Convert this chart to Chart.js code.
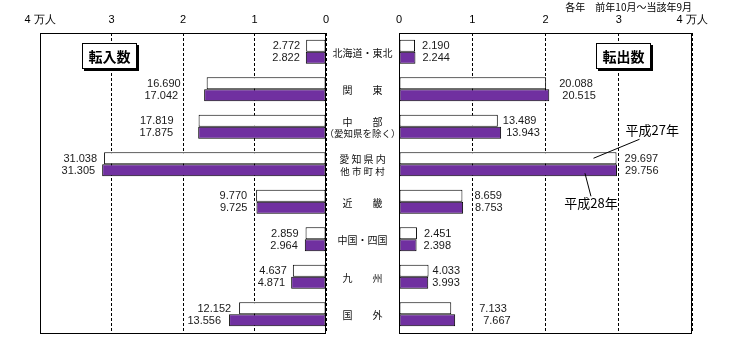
<!DOCTYPE html>
<html><head><meta charset="utf-8">
<script src="https://cdn.jsdelivr.net/npm/chart.js@4/dist/chart.umd.min.js"></script>
<style>
body{margin:0;background:#fff;width:750px;height:357px;position:relative;overflow:hidden}
#wl{position:absolute;left:0;top:0;width:340px;height:357px}
#wr{position:absolute;left:326px;top:0;width:424px;height:357px}
</style></head><body>
<div id="wl"><canvas id="cl"></canvas></div>
<div id="wr"><canvas id="cr"></canvas></div>
<script>
// ---- data (thousands of people) ----
const categories = ['北海道・東北', '関　　東', ['中　　部', '（愛知県を除く）'], ['愛 知 県 内', '他 市 町 村'], '近　　畿', '中国・四国', '九　　州', '国　　外'];
const seriesNames = ['平成27年', '平成28年'];
const inflow27  = [2.772, 16.690, 17.819, 31.038, 9.770, 2.859, 4.637, 12.152];
const inflow28  = [2.822, 17.042, 17.875, 31.305, 9.725, 2.964, 4.871, 13.556];
const outflow27 = [2.190, 20.088, 13.489, 29.697, 8.659, 2.451, 4.033, 7.133];
const outflow28 = [2.244, 20.515, 13.943, 29.756, 8.753, 2.398, 3.993, 7.667];
const tickValues = [0, 10, 20, 30, 40];
const tickLabels = ['0', '1', '2', '3', '4 万人'];
const panelTitles = ['転入数', '転出数'];
const periodNote = '各年　前年10月～当該年9月';
// label gaps (style only)
const gapIn  = [6, 26, 25, 7, 9, 7, 6, 8];
const gapOut = [7, 13, 5, 8, 12, 7, 4, 28];

const PURPLE = '#7030a0';
const JP = '"Noto Sans CJK JP", "Noto Sans", sans-serif';
const NUM = '"Liberation Sans", Arial, sans-serif';

function datasets(a, b) {
  return [
    {label: seriesNames[0], data: a, backgroundColor: '#ffffff', borderColor: '#000', borderWidth: 1, borderSkipped: false, categoryPercentage: 0.64, barPercentage: 1},
    {label: seriesNames[1], data: b, backgroundColor: PURPLE, borderColor: '#000', borderWidth: 1, borderSkipped: false, categoryPercentage: 0.64, barPercentage: 1}
  ];
}

function xScale(reverse) {
  return {
    type: 'linear', position: 'top', min: 0, max: 40, reverse: reverse,
    afterFit: s => { s.height = 20; s.paddingLeft = 0; s.paddingRight = 0; },
    ticks: {
      stepSize: 10, color: '#000', padding: 6, maxRotation: 0,
      font: {family: NUM, size: 11},
      callback: v => { const i = tickValues.indexOf(v); return i >= 0 ? tickLabels[i] : ''; }
    },
    grid: {color: '#000', lineWidth: 1, drawTicks: false},
    border: {display: false, dash: [3, 2]}
  };
}

const frame = {
  id: 'frame',
  afterDraw(chart) {
    const {ctx, chartArea: a} = chart;
    ctx.save();
    ctx.strokeStyle = '#000'; ctx.lineWidth = 1; ctx.setLineDash([]);
    ctx.strokeRect(Math.round(a.left) + 0.5, Math.round(a.top) + 0.5, Math.round(a.right - a.left) - 1, Math.round(a.bottom - a.top));
    ctx.restore();
  }
};

function valueLabels(side, gaps) {
  return {
    id: 'vl' + side,
    afterDatasetsDraw(chart) {
      const ctx = chart.ctx;
      ctx.save();
      ctx.font = '11px ' + NUM;
      ctx.fillStyle = '#1a1a1a';
      ctx.textBaseline = 'middle';
      ctx.textAlign = side === 'left' ? 'right' : 'left';
      chart.data.datasets.forEach((ds, i) => {
        chart.getDatasetMeta(i).data.forEach((bar, j) => {
          const x = side === 'left' ? bar.x - gaps[j] : bar.x + gaps[j];
          ctx.fillText(ds.data[j].toFixed(3), x, bar.y + 0.5);
        });
      });
      ctx.restore();
    }
  };
}

function titleBox(ctx, text, x1, y1, x2, y2) {
  ctx.save();
  ctx.fillStyle = '#000';
  ctx.fillRect(x1 + 2, y1 + 2, x2 - x1, y2 - y1);
  ctx.fillStyle = '#fff';
  ctx.fillRect(x1, y1, x2 - x1, y2 - y1);
  ctx.strokeStyle = '#000'; ctx.lineWidth = 1;
  ctx.strokeRect(x1 + 0.5, y1 + 0.5, x2 - x1 - 1, y2 - y1 - 1);
  ctx.fillStyle = '#000';
  ctx.font = 'bold 14px ' + JP;
  ctx.textAlign = 'center'; ctx.textBaseline = 'middle';
  ctx.fillText(text, (x1 + x2) / 2, (y1 + y2) / 2 + 1);
  ctx.restore();
}

const leftDeco = {
  id: 'leftDeco',
  afterDraw(chart) {
    const a = chart.chartArea;
    titleBox(chart.ctx, panelTitles[0], a.left + 42, a.top + 10, a.left + 97, a.top + 36);
  }
};

const rightDeco = {
  id: 'rightDeco',
  afterDraw(chart) {
    const {ctx, chartArea: a} = chart;
    titleBox(ctx, panelTitles[1], a.right - 96, a.top + 10, a.right - 41, a.top + 36);
    // category labels in the middle column
    const cx = a.left - 36.5;
    ctx.save();
    ctx.fillStyle = '#111';
    ctx.textAlign = 'center'; ctx.textBaseline = 'middle';
    const ys = chart.scales.y;
    categories.forEach((c, j) => {
      const y = ys.getPixelForValue(j) + 1;
      if (Array.isArray(c)) {
        ctx.font = '10px ' + JP;
        ctx.fillText(c[0], cx, y - 6);
        ctx.font = (c[1].length > 6 ? '9.5px ' : '10px ') + JP;
        ctx.fillText(c[1], cx, y + 6);
      } else {
        ctx.font = '10px ' + JP;
        ctx.fillText(c, cx, y);
      }
    });
    // period note
    ctx.font = '10px ' + JP;
    ctx.textAlign = 'right'; ctx.fillStyle = '#000';
    ctx.fillText(periodNote, a.right, 7);
    // series annotations
    const b27 = chart.getDatasetMeta(0).data[3];
    const b28 = chart.getDatasetMeta(1).data[3];
    ctx.strokeStyle = '#000'; ctx.lineWidth = 1;
    ctx.beginPath();
    ctx.moveTo(b27.x + 23, b27.y - 19); ctx.lineTo(b27.x - 23, b27.y);
    ctx.moveTo(b28.x - 32, b28.y + 3); ctx.lineTo(b28.x - 26, b28.y + 26);
    ctx.stroke();
    ctx.font = '13px ' + JP;
    ctx.textAlign = 'left';
    ctx.fillText(seriesNames[0], b27.x + 9, b27.y - 28);
    ctx.textAlign = 'center';
    ctx.fillText(seriesNames[1], b28.x - 26, b28.y + 33);
    ctx.restore();
  }
};

function makeChart(id, a, b, reverse, padding, plugins) {
  return new Chart(document.getElementById(id), {
    type: 'bar',
    data: {labels: categories.map(c => Array.isArray(c) ? c.join('') : c), datasets: datasets(a, b)},
    options: {
      indexAxis: 'y', responsive: true, maintainAspectRatio: false, animation: false,
      layout: {padding: padding},
      plugins: {legend: {display: false}, tooltip: {enabled: false}},
      scales: {x: xScale(reverse), y: {type: 'category', display: false}}
    },
    plugins: plugins
  });
}

makeChart('cl', inflow27, inflow28, true, {left: 40, right: 14, top: 13, bottom: 24}, [frame, valueLabels('left', gapIn), leftDeco]);
makeChart('cr', outflow27, outflow28, false, {left: 73, right: 58, top: 13, bottom: 24}, [frame, valueLabels('right', gapOut), rightDeco]);
</script>
</body></html>
